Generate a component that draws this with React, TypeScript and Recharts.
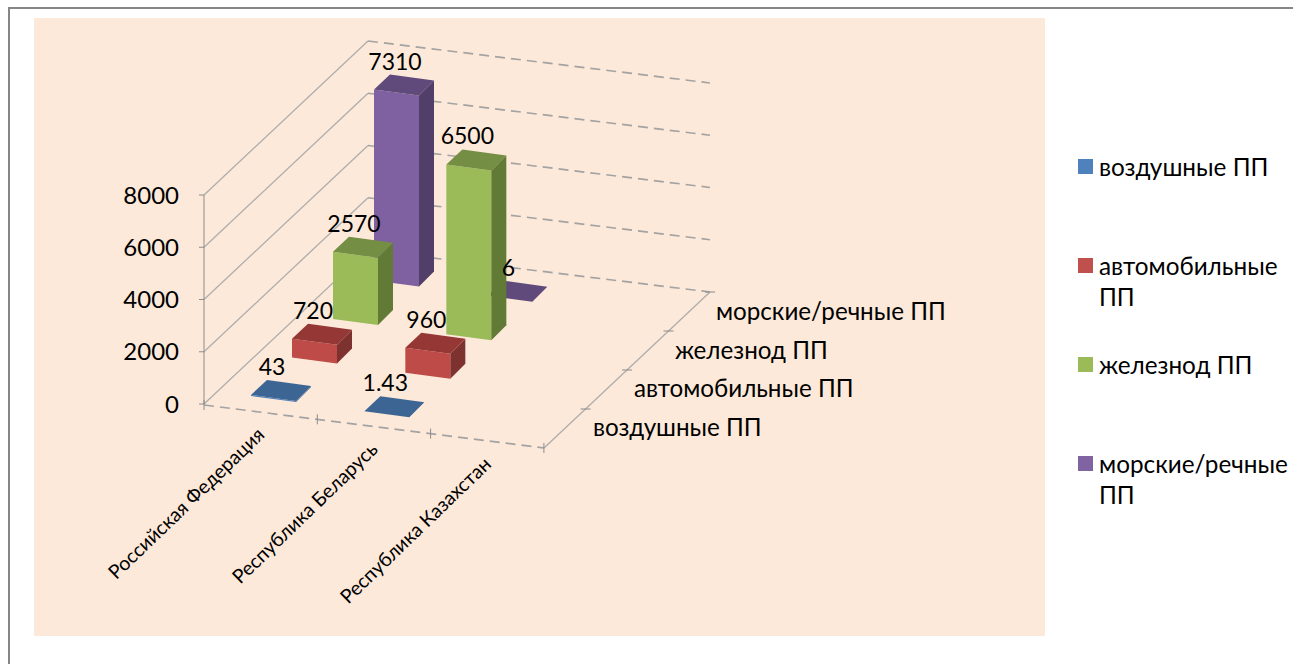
import { Bar, BarChart, CartesianGrid, Legend, XAxis, YAxis } from "recharts";

const categories = ["Российская Федерация", "Республика Беларусь", "Республика Казахстан"];
const seriesNames = ["воздушные ПП", "автомобильные ПП", "железнод ПП", "морские/речные ПП"];
const seriesKeys = ["air", "road", "rail", "sea"];
const airValues = [43, 1.43, null];
const roadValues = [720, 960, null];
const railValues = [2570, 6500, null];
const seaValues = [7310, 6, null];
const yTicks = [0, 2000, 4000, 6000, 8000];

const faceColors = [
  { legend: "#4F81BD", front: "#4F81BD", side: "#2F5583", top: "#3C6594" },
  { legend: "#C0504D", front: "#BE4B48", side: "#7E3230", top: "#953735" },
  { legend: "#9BBB59", front: "#9BBB59", side: "#617A35", top: "#748E43" },
  { legend: "#8064A2", front: "#7F60A0", side: "#523F69", top: "#604A7B" },
];

const data = categories.map((name, i) => ({
  name,
  air: airValues[i],
  road: roadValues[i],
  rail: railValues[i],
  sea: seaValues[i],
}));

const FONT = "Lato, 'Open Sans', sans-serif";
const AXIS_GRAY = "#8c8c8c";

// the picture is a 3D chart: every series sits further back on the floor
const SERIES_STEP = { x: 41, y: -38.5 };
const CATEGORY_DROP = 15.3;
const BOX_SLOPE = 6;
const BOX_DEPTH = 15;

function boxOrigin(props: any, s: number) {
  return {
    X: props.x + 13 + s * SERIES_STEP.x,
    top: props.y - 8 + s * SERIES_STEP.y + props.index * CATEGORY_DROP,
  };
}

function BoxShape(props: any, s: number) {
  const value = props.payload[seriesKeys[s]];
  if (value == null) return <g />;
  const { X, top } = boxOrigin(props, s);
  const w = props.width;
  const bottom = top + props.height;
  const c = faceColors[s];
  const right = X + w;
  const rear = right + BOX_DEPTH;
  const pts = (list: number[][]) => list.map((p) => p.join(",")).join(" ");
  return (
    <g>
      <polygon
        fill={c.front}
        points={pts([[X, top], [right, top + BOX_SLOPE], [right, bottom + BOX_SLOPE], [X, bottom]])}
      />
      <polygon
        fill={c.side}
        points={pts([
          [right, top + BOX_SLOPE],
          [rear, top + BOX_SLOPE - BOX_DEPTH],
          [rear, bottom + BOX_SLOPE - BOX_DEPTH],
          [right, bottom + BOX_SLOPE],
        ])}
      />
      <polygon
        fill={c.top}
        points={pts([
          [X, top],
          [X + BOX_DEPTH + 1, top - BOX_DEPTH],
          [rear, top + BOX_SLOPE - BOX_DEPTH],
          [right, top + BOX_SLOPE],
        ])}
      />
    </g>
  );
}

function ValueLabel(props: any, s: number) {
  const value = props.payload[seriesKeys[s]];
  if (value == null) return <g />;
  const { X, top } = boxOrigin(props, s);
  return (
    <text x={X + 21} y={top - 20} textAnchor="middle" fontFamily={FONT} fontSize={23} fill="#000">
      {value}
    </text>
  );
}

function WallLine(props: any) {
  const { x1, y1, key } = props;
  const corner = { x: x1 + 164, y: y1 - 154 };
  return (
    <g key={key}>
      <line x1={x1} y1={y1} x2={corner.x} y2={corner.y} stroke="#adadad" strokeWidth={1.3} />
      <line
        x1={corner.x}
        y1={corner.y}
        x2={corner.x + 342}
        y2={corner.y + 42}
        stroke="#a3a3a3"
        strokeWidth={1.7}
        strokeDasharray="10 6"
      />
    </g>
  );
}

function CategoryTick(props: any) {
  const { x, payload } = props;
  const y = 436 + (x - 260) * 0.13;
  return (
    <g>
      <text
        x={x + 5}
        y={y}
        textAnchor="end"
        fontFamily={FONT}
        fontSize={19.5}
        fill="#000"
        transform={`rotate(-44 ${x + 5} ${y})`}
      >
        {payload.value}
      </text>
    </g>
  );
}

function SeriesLegend() {
  return (
    <div style={{ fontFamily: FONT, fontSize: 24.3, lineHeight: "31px", color: "#000" }}>
      {seriesNames.map((name, s) => (
        <div key={name} style={{ height: 99, display: "flex", alignItems: "flex-start" }}>
          <span
            style={{
              width: 15,
              height: 15,
              flex: "none",
              marginTop: 8,
              marginRight: 6,
              background: faceColors[s].legend,
            }}
          />
          <span style={{ textAlign: "left", width: 194 }}>{name}</span>
        </div>
      ))}
    </div>
  );
}

export default function App() {
  return (
    <div
      style={{
        position: "absolute",
        left: 0,
        top: 0,
        width: 1293,
        height: 664,
        overflow: "hidden",
        background: "#fff",
      }}
    >
      <div
        style={{
          position: "absolute",
          left: 8,
          top: 7,
          width: 1400,
          height: 800,
          borderTop: "2px solid #868686",
          borderLeft: "2px solid #868686",
        }}
      />
      <div
        style={{ position: "absolute", left: 34, top: 18, width: 1011, height: 618, background: "#FDE9D9" }}
      />
      <div style={{ position: "absolute", left: 0, top: 0 }}>
        <BarChart
          width={1293}
          height={664}
          data={data}
          barSize={45}
          barGap={-45}
          margin={{ top: 195, right: 749, bottom: 230, left: 144 }}
        >
          <CartesianGrid vertical={false} horizontal={WallLine} />
          <XAxis
            dataKey="name"
            height={30}
            interval={0}
            axisLine={false}
            tickLine={false}
            tick={CategoryTick}
          />
          <YAxis
            width={60}
            domain={[0, 8000]}
            ticks={yTicks}
            tickSize={5}
            tickMargin={20}
            axisLine={{ stroke: AXIS_GRAY }}
            tickLine={{ stroke: AXIS_GRAY }}
            tick={{ fill: "#000", fontFamily: FONT, fontSize: 24 }}
          />
          {/* floor edges and their tick marks */}
          <g stroke={AXIS_GRAY} fill="none">
            <line x1={204} y1={405} x2={544} y2={448} stroke="#a3a3a3" strokeWidth={1.7} strokeDasharray="10 6" />
            <line x1={544} y1={448} x2={710} y2={292} stroke="#adadad" strokeWidth={1.3} />
            {[0, 1, 2, 3].map((i) => (
              <line key={i} x1={204 + i * 113.3} y1={400 + i * 14.3} x2={204 + i * 113.3} y2={410 + i * 14.3} />
            ))}
            {[0, 1, 2, 3].map((i) => (
              <line key={i} x1={544 + (i + 1) * 41.5 - 5} y1={448 - (i + 1) * 39} x2={544 + (i + 1) * 41.5 + 5} y2={448 - (i + 1) * 39} />
            ))}
          </g>
          {seriesNames.map((name, s) => (
            <text
              key={name}
              x={593 + s * 41}
              y={436 - s * 38.7}
              fontFamily={FONT}
              fontSize={24.2}
              fill="#000"
            >
              {name}
            </text>
          ))}
          {[3, 2, 1, 0].map((s) => (
            <Bar
              key={seriesKeys[s]}
              dataKey={seriesKeys[s]}
              name={seriesNames[s]}
              isAnimationActive={false}
              shape={(props: any) => BoxShape(props, s)}
            />
          ))}
          {[3, 2, 1, 0].map((s) => (
            <Bar
              key={seriesKeys[s] + "-label"}
              dataKey={seriesKeys[s]}
              legendType="none"
              isAnimationActive={false}
              shape={(props: any) => ValueLabel(props, s)}
            />
          ))}
          <Legend
            layout="horizontal"
            verticalAlign="middle"
            content={SeriesLegend}
            wrapperStyle={{ left: 1078, top: 151, width: 215, height: 400 }}
          />
        </BarChart>
      </div>
    </div>
  );
}
